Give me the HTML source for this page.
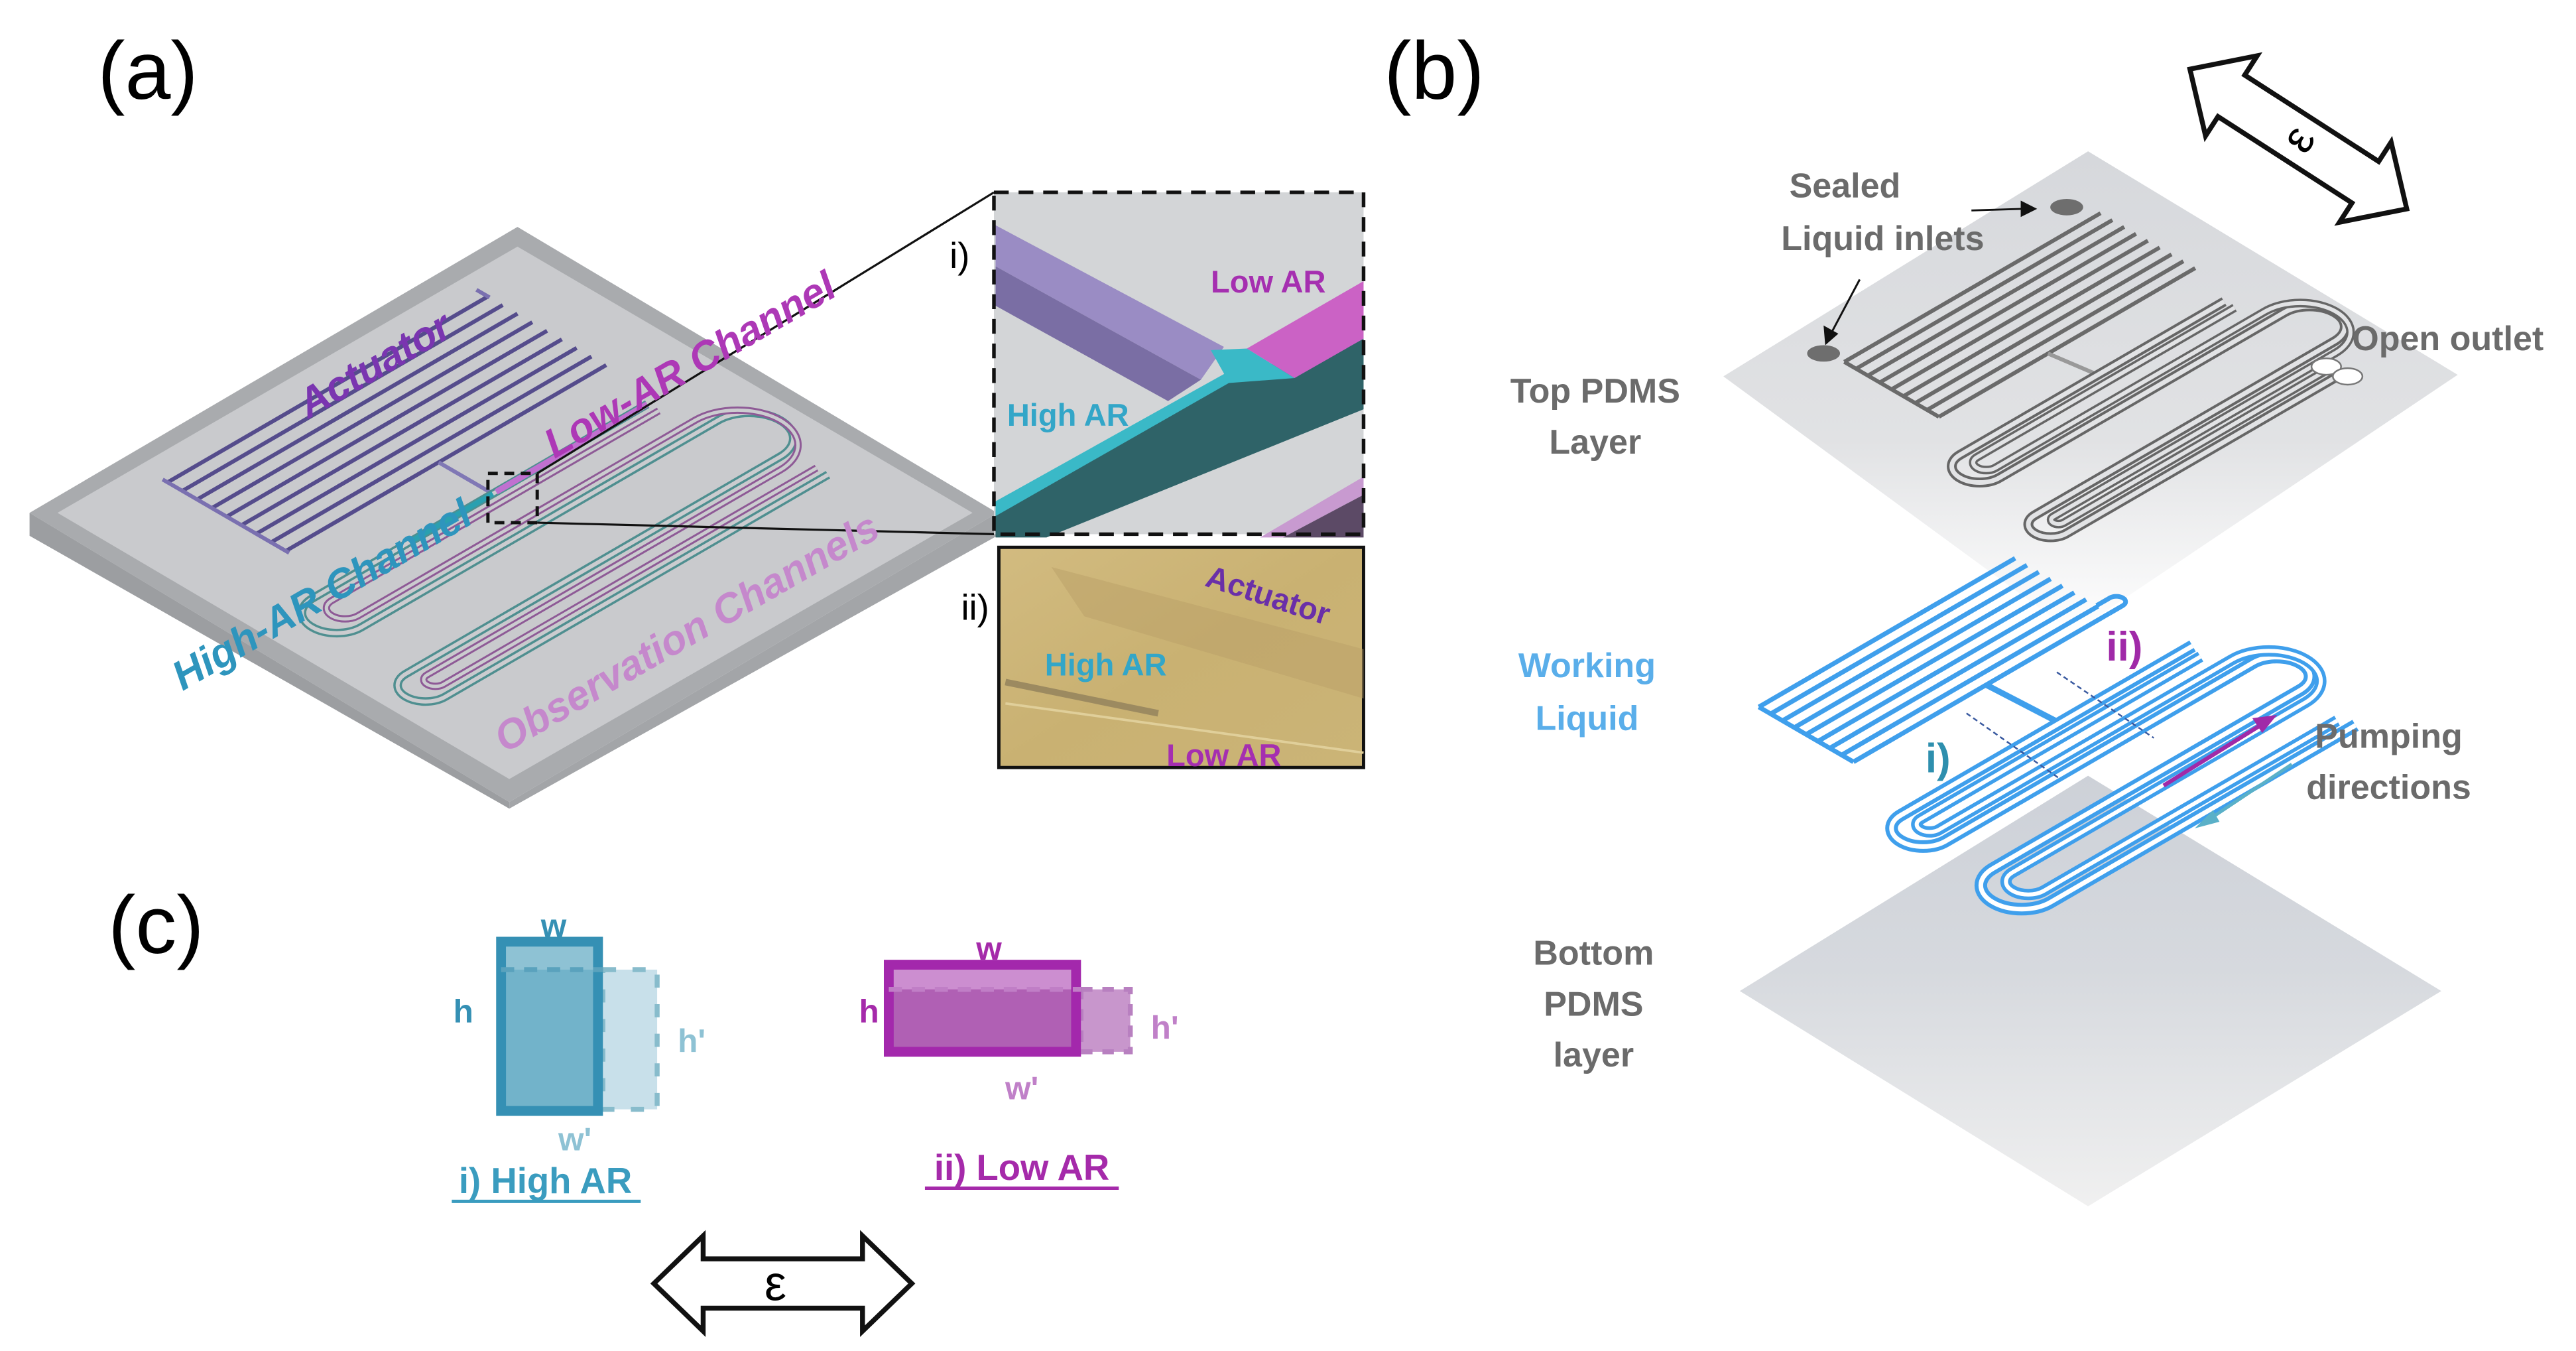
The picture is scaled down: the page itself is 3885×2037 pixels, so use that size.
<!DOCTYPE html>
<html><head><meta charset="utf-8"><style>
html,body{margin:0;padding:0;background:#fff}
svg{display:block}
text{font-family:"Liberation Sans",sans-serif}
</style></head><body>
<svg width="3885" height="2037" viewBox="0 0 1568 822" xmlns="http://www.w3.org/2000/svg">
<defs>
<linearGradient id="gtop" x1="0" y1="0" x2="0" y2="1">
<stop offset="0" stop-color="#d6d8dc"/><stop offset="0.6" stop-color="#e1e2e4"/><stop offset="1" stop-color="#ffffff"/></linearGradient>
<linearGradient id="gbot" x1="0" y1="0" x2="0" y2="1">
<stop offset="0" stop-color="#cdd1d8"/><stop offset="0.45" stop-color="#d6d9de"/><stop offset="1" stop-color="#f0f0f0"/></linearGradient>
<linearGradient id="gtan" x1="0" y1="0" x2="1" y2="1">
<stop offset="0" stop-color="#d2bb80"/><stop offset="0.5" stop-color="#c9b172"/><stop offset="1" stop-color="#cbb477"/></linearGradient>
</defs>

<text x="90" y="60" font-size="50" text-anchor="middle">(a)</text>
<text x="873" y="60" font-size="50" text-anchor="middle">(b)</text>
<text x="95" y="580" font-size="50" text-anchor="middle">(c)</text>

<!-- ===== Panel a plate ===== -->
<polygon points="18,312 315,138 607,312 310,488" fill="#a9abae"/>
<polygon points="18,312 310,488 310,492 18,326" fill="#9c9ea1"/>
<polygon points="310,488 607,312 607,326 310,492" fill="#a3a5a8"/>
<polygon points="35,312 315,150 592,312 310,474" fill="#c9cacd"/>

<g transform="matrix(1,-0.58,1,0.58,20,312)" fill="none">
  <g stroke="#554c8c" stroke-width="6">
    <line x1="57" y1="25" x2="252" y2="25" vector-effect="non-scaling-stroke"/>
    <line x1="57" y1="34" x2="252" y2="34" vector-effect="non-scaling-stroke"/>
    <line x1="57" y1="43" x2="252" y2="43" vector-effect="non-scaling-stroke"/>
    <line x1="57" y1="52" x2="252" y2="52" vector-effect="non-scaling-stroke"/>
    <line x1="57" y1="61" x2="252" y2="61" vector-effect="non-scaling-stroke"/>
    <line x1="57" y1="70" x2="252" y2="70" vector-effect="non-scaling-stroke"/>
    <line x1="57" y1="79" x2="252" y2="79" vector-effect="non-scaling-stroke"/>
    <line x1="57" y1="88" x2="252" y2="88" vector-effect="non-scaling-stroke"/>
    <line x1="57" y1="97" x2="252" y2="97" vector-effect="non-scaling-stroke"/>
    <line x1="57" y1="22" x2="57" y2="99" stroke="#7a70b0" vector-effect="non-scaling-stroke"/>
    <line x1="252" y1="18" x2="252" y2="26" stroke="#7a70b0" vector-effect="non-scaling-stroke"/>
    <line x1="150" y1="97" x2="150" y2="130" stroke="#8078b5" vector-effect="non-scaling-stroke"/>
  </g>
  <path d="M244 130 L40 130 A15 15 0 0 0 40 160 L257 160 A19 19 0 0 1 257 198 L29 198 A12 12 0 0 0 29 222 L262 222" stroke="#4f8f90" stroke-width="13" vector-effect="non-scaling-stroke"/>
  <path d="M244 130 L40 130 A15 15 0 0 0 40 160 L257 160 A19 19 0 0 1 257 198 L29 198 A12 12 0 0 0 29 222 L262 222" stroke="#cbcccf" stroke-width="6" vector-effect="non-scaling-stroke"/>
  <path d="M244 137 L45 137 A8 8 0 0 0 45 153 L250 153 A26 26 0 0 1 250 205 L35 205 A5 5 0 0 0 35 215 L262 215" stroke="#8e5a96" stroke-width="11" vector-effect="non-scaling-stroke"/>
  <path d="M244 137 L45 137 A8 8 0 0 0 45 153 L250 153 A26 26 0 0 1 250 205 L35 205 A5 5 0 0 0 35 215 L262 215" stroke="#cbcccf" stroke-width="5" vector-effect="non-scaling-stroke"/>
  <line x1="152" y1="130" x2="244" y2="130" stroke="#c070d0" stroke-width="9" vector-effect="non-scaling-stroke"/>
  <line x1="100" y1="130" x2="150" y2="130" stroke="#2aa0b0" stroke-width="8" vector-effect="non-scaling-stroke"/>
</g>

<rect x="297" y="288" width="30" height="30" fill="none" stroke="#111" stroke-width="2" stroke-dasharray="6,4"/>
<line x1="327" y1="288" x2="605" y2="117" stroke="#111" stroke-width="1.3"/>
<line x1="327" y1="318" x2="605" y2="325" stroke="#111" stroke-width="1.3"/>

<g font-weight="bold" font-style="italic" font-size="25">
<text transform="translate(228,222) rotate(-30)" text-anchor="middle" dominant-baseline="central" fill="#7a35b0">Actuator</text>
<text transform="translate(420,222) rotate(-30)" text-anchor="middle" dominant-baseline="central" fill="#ad38b6">Low-AR Channel</text>
<text transform="translate(196,362) rotate(-30)" text-anchor="middle" dominant-baseline="central" fill="#2e95bd">High-AR Channel</text>
<text transform="translate(418,385) rotate(-30)" text-anchor="middle" dominant-baseline="central" fill="#c588cc">Observation Channels</text>
</g>

<!-- inset i -->
<rect x="605" y="117" width="225" height="208" fill="#d3d5d7"/>
<polygon points="606,137 745,211 731,231 606,162" fill="#9a8cc4"/>
<polygon points="606,162 731,231 711,244 606,186" fill="#7a6ea4"/>
<polygon points="606,311 748,229 830,206 830,249 637,327 606,327" fill="#2f6368"/>
<polygon points="606,305 746,227 788,230 748,233 606,314" fill="#3ab9c7"/>
<polygon points="737,213 759,212 788,230 746,229" fill="#3ab9c7"/>
<polygon points="759,212 830,171 830,206 788,230" fill="#cb62c5"/>
<polygon points="767,327 830,290 830,301 781,327" fill="#c89ad0"/>
<polygon points="781,327 830,301 830,327" fill="#5c4a66"/>
<rect x="605" y="117" width="225" height="208" fill="none" stroke="#111" stroke-width="2.2" stroke-dasharray="9,6"/>
<text x="737" y="178" font-size="19" font-weight="bold" fill="#a52fb0">Low AR</text>
<text x="613" y="259" font-size="19" font-weight="bold" fill="#33a6c8">High AR</text>
<text x="578" y="163" font-size="22">i)</text>

<!-- inset ii -->
<rect x="608" y="333" width="222" height="134" fill="url(#gtan)" stroke="#111" stroke-width="2"/>
<polygon points="640,345 830,395 830,425 660,375" fill="#b9a068" opacity="0.5"/>
<line x1="612" y1="415" x2="705" y2="434" stroke="#9c8a60" stroke-width="4"/>
<line x1="612" y1="428" x2="830" y2="458" stroke="#e0cf9a" stroke-width="1.5"/>
<text transform="translate(772,362) rotate(18)" text-anchor="middle" dominant-baseline="central" font-size="19" font-weight="bold" fill="#6a2fa8">Actuator</text>
<text x="636" y="411" font-size="19" font-weight="bold" fill="#33a6c8">High AR</text>
<text x="710" y="466" font-size="19" font-weight="bold" fill="#a52fb0">Low AR</text>
<text x="585" y="377" font-size="22">ii)</text>

<!-- ===== Panel b ===== -->
<polygon points="1271,472 1486,603 1271,734 1059,603" fill="url(#gbot)"/>
<polygon points="1271,92 1496,228 1262,385 1049,229" fill="url(#gtop)"/>
<g transform="matrix(0.8,-0.464,0.8,0.464,1057,235)" fill="none">
  <g stroke="#6a6a6a" stroke-width="6">
    <line x1="57" y1="25" x2="252" y2="25" vector-effect="non-scaling-stroke"/>
    <line x1="57" y1="34" x2="252" y2="34" vector-effect="non-scaling-stroke"/>
    <line x1="57" y1="43" x2="252" y2="43" vector-effect="non-scaling-stroke"/>
    <line x1="57" y1="52" x2="252" y2="52" vector-effect="non-scaling-stroke"/>
    <line x1="57" y1="61" x2="252" y2="61" vector-effect="non-scaling-stroke"/>
    <line x1="57" y1="70" x2="252" y2="70" vector-effect="non-scaling-stroke"/>
    <line x1="57" y1="79" x2="252" y2="79" vector-effect="non-scaling-stroke"/>
    <line x1="57" y1="88" x2="252" y2="88" vector-effect="non-scaling-stroke"/>
    <line x1="57" y1="97" x2="252" y2="97" vector-effect="non-scaling-stroke"/>
    <line x1="57" y1="25" x2="57" y2="97" vector-effect="non-scaling-stroke"/>
    <line x1="140" y1="97" x2="145" y2="130" stroke="#999" vector-effect="non-scaling-stroke"/>
  </g>
  <path d="M241 130 L40 130 A15 15 0 0 0 40 160 L257 160 A19 19 0 0 1 257 198 L29 198 A12 12 0 0 0 29 222 L238 222" stroke="#666" stroke-width="15" vector-effect="non-scaling-stroke"/>
  <path d="M241 130 L40 130 A15 15 0 0 0 40 160 L257 160 A19 19 0 0 1 257 198 L29 198 A12 12 0 0 0 29 222 L238 222" stroke="#e2e3e5" stroke-width="7" vector-effect="non-scaling-stroke"/>
  <path d="M241 138 L45 138 A7 7 0 0 0 45 152 L250 152 A27 27 0 0 1 250 206 L35 206 A4 4 0 0 0 35 214 L238 214" stroke="#666" stroke-width="13" vector-effect="non-scaling-stroke"/>
  <path d="M241 138 L45 138 A7 7 0 0 0 45 152 L250 152 A27 27 0 0 1 250 206 L35 206 A4 4 0 0 0 35 214 L238 214" stroke="#e2e3e5" stroke-width="6" vector-effect="non-scaling-stroke"/>
</g>
<ellipse cx="1110" cy="215" rx="10" ry="5" fill="#6e6e6e"/>
<ellipse cx="1258" cy="126" rx="10" ry="5" fill="#6e6e6e"/>
<ellipse cx="1416" cy="223" rx="9" ry="5" fill="#fff" stroke="#777" stroke-width="1"/>
<ellipse cx="1429" cy="229" rx="9" ry="5" fill="#fff" stroke="#777" stroke-width="1"/>
<line x1="1200" y1="128" x2="1232" y2="127" stroke="#111" stroke-width="1.2"/>
<polygon points="1240,127 1230,122 1230,132" fill="#111"/>
<line x1="1132" y1="170" x2="1115" y2="202" stroke="#111" stroke-width="1.2"/>
<polygon points="1111,210 1110,198 1119,203" fill="#111"/>

<g transform="matrix(0.8,-0.464,0.8,0.464,1005,445)" fill="none">
  <g stroke="#3f9fec" stroke-width="7">
    <line x1="57" y1="25" x2="252" y2="25" vector-effect="non-scaling-stroke"/>
    <line x1="57" y1="34" x2="252" y2="34" vector-effect="non-scaling-stroke"/>
    <line x1="57" y1="43" x2="252" y2="43" vector-effect="non-scaling-stroke"/>
    <line x1="57" y1="52" x2="252" y2="52" vector-effect="non-scaling-stroke"/>
    <line x1="57" y1="61" x2="252" y2="61" vector-effect="non-scaling-stroke"/>
    <line x1="57" y1="70" x2="252" y2="70" vector-effect="non-scaling-stroke"/>
    <line x1="57" y1="79" x2="252" y2="79" vector-effect="non-scaling-stroke"/>
    <line x1="57" y1="88" x2="252" y2="88" vector-effect="non-scaling-stroke"/>
    <line x1="57" y1="97" x2="252" y2="97" vector-effect="non-scaling-stroke"/>
    <line x1="57" y1="25" x2="57" y2="97" vector-effect="non-scaling-stroke"/>
    <path d="M252 97 L262 97 A5 5 0 0 0 262 87 L252 87" vector-effect="non-scaling-stroke"/>
    <line x1="158" y1="97" x2="161" y2="150" stroke-width="9" vector-effect="non-scaling-stroke"/>
  </g>
  <path d="M262 150 L40 150 A17 17 0 0 0 40 184 L274 184 A18 18 0 0 1 274 220 L40 220 A22 22 0 0 0 40 264 L272 264" stroke="#3f9fec" stroke-width="19" vector-effect="non-scaling-stroke"/>
  <path d="M262 150 L40 150 A17 17 0 0 0 40 184 L274 184 A18 18 0 0 1 274 220 L40 220 A22 22 0 0 0 40 264 L272 264" stroke="#fff" stroke-width="7" vector-effect="non-scaling-stroke"/>
  <path d="M258 160 L45 160 A7 7 0 0 0 45 174 L268 174 A28 28 0 0 1 268 230 L45 230 A12 12 0 0 0 45 254 L268 254" stroke="#3f9fec" stroke-width="17" vector-effect="non-scaling-stroke"/>
  <path d="M258 160 L45 160 A7 7 0 0 0 45 174 L268 174 A28 28 0 0 1 268 230 L45 230 A12 12 0 0 0 45 254 L268 254" stroke="#fff" stroke-width="6" vector-effect="non-scaling-stroke"/>
</g>
<line x1="1252" y1="409" x2="1311" y2="449" stroke="#3a5aa0" stroke-width="1" stroke-dasharray="3,2"/>
<line x1="1197" y1="434" x2="1254" y2="474" stroke="#3a5aa0" stroke-width="1" stroke-dasharray="3,2"/>
<text x="1282" y="402" font-size="25" fill="#a02aa8" font-weight="bold">ii)</text>
<text x="1172" y="470" font-size="25" fill="#2e8fae" font-weight="bold">i)</text>
<line x1="1317" y1="478" x2="1378" y2="440" stroke="#a02aa8" stroke-width="2.5"/>
<polygon points="1386,435 1371,437 1377,446" fill="#a02aa8"/>
<line x1="1395" y1="465" x2="1344" y2="499" stroke="#5ab0c8" stroke-width="2"/>
<polygon points="1336,504 1347,493 1351,500" fill="#5ab0c8"/>

<g font-weight="bold" font-size="21" fill="#6b6b6b" text-anchor="middle">
<text x="1123" y="120">Sealed</text>
<text x="1146" y="152">Liquid  inlets</text>
<text x="1490" y="213">Open outlet</text>
<text x="971" y="245">Top PDMS</text>
<text x="971" y="276">Layer</text>
<text x="1454" y="455">Pumping</text>
<text x="1454" y="486">directions</text>
<text x="970" y="587">Bottom</text>
<text x="970" y="618">PDMS</text>
<text x="970" y="649">layer</text>
</g>
<g font-weight="bold" font-size="21" fill="#5aaeea" text-anchor="middle">
<text x="966" y="412">Working</text>
<text x="966" y="444">Liquid</text>
</g>

<g transform="translate(1333,42) rotate(32.8) translate(0,-29)">
<polygon points="0,29 30,0 30,14 127,14 127,0 157,29 127,58 127,44 30,44 30,58" fill="#fff" stroke="#111" stroke-width="3"/>
<text transform="translate(78,29) rotate(-90)" text-anchor="middle" dominant-baseline="central" font-size="28" font-family="Liberation Serif">ε</text>
</g>
<g transform="translate(398,752)">
<polygon points="0,29 30,0 30,14 127,14 127,0 157,29 127,58 127,44 30,44 30,58" fill="#fff" stroke="#111" stroke-width="3"/>
<text x="74" y="29" text-anchor="middle" dominant-baseline="central" font-size="30" font-family="Liberation Serif">ε</text>
</g>

<!-- ===== Panel c ===== -->
<rect x="367" y="590" width="33" height="85" fill="#c8e0ea"/>
<rect x="367" y="590" width="33" height="85" fill="none" stroke="#88bccc" stroke-width="3" stroke-dasharray="8,10"/>
<rect x="305" y="573" width="59" height="103" fill="#72b3ca" stroke="#3590b4" stroke-width="6"/>
<rect x="308" y="576" width="53" height="14" fill="#8ec2d4"/>
<line x1="305" y1="590" x2="367" y2="590" stroke="#5aa2bd" stroke-width="3" stroke-dasharray="8,6"/>
<g font-weight="bold" font-size="20" text-anchor="middle">
<text x="337" y="570" fill="#3590b4">w</text>
<text x="282" y="622" fill="#3590b4">h</text>
<text x="421" y="640" fill="#8ec2d4">h'</text>
<text x="350" y="700" fill="#8ec2d4">w'</text>
<text x="602" y="584" fill="#a52aaa">w</text>
<text x="529" y="622" fill="#a52aaa">h</text>
<text x="709" y="632" fill="#c080c8">h'</text>
<text x="622" y="669" fill="#c080c8">w'</text>
</g>
<rect x="658" y="602" width="30" height="38" fill="#c896cc"/>
<rect x="658" y="602" width="30" height="38" fill="none" stroke="#b880c0" stroke-width="3" stroke-dasharray="7,6"/>
<rect x="541" y="587" width="114" height="53" fill="#b060b4" stroke="#a328ac" stroke-width="6"/>
<rect x="544" y="590" width="108" height="12" fill="#cc8ed0"/>
<line x1="541" y1="602" x2="658" y2="602" stroke="#c07ec6" stroke-width="3" stroke-dasharray="8,6"/>
<g font-weight="bold" font-size="22" text-anchor="middle">
<text x="332" y="726" fill="#3a9cbf">i) High AR</text>
<text x="622" y="718" fill="#a52aaa">ii) Low AR</text>
</g>
<line x1="275" y1="731" x2="390" y2="731" stroke="#3a9cbf" stroke-width="2"/>
<line x1="563" y1="723" x2="681" y2="723" stroke="#a52aaa" stroke-width="2"/>
</svg>
</body></html>
